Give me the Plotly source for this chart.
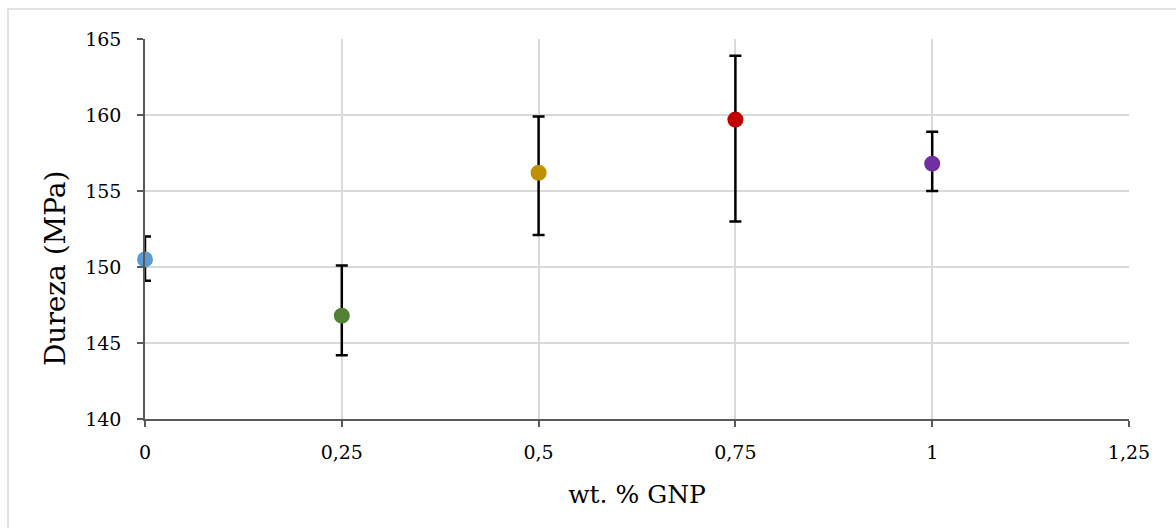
import plotly.graph_objects as go

# GNP content (wt.%) and measured hardness (MPa)
gnp_wt = [0, 0.25, 0.5, 0.75, 1]
hardness = [150.5, 146.8, 156.2, 159.7, 156.8]
err_plus = [1.5, 3.3, 3.7, 4.2, 2.1]
err_minus = [1.4, 2.6, 4.1, 6.7, 1.8]
point_colors = ["#5B9BD5", "#548235", "#BF9000", "#C00000", "#7030A0"]

x_ticks = [0, 0.25, 0.5, 0.75, 1, 1.25]
y_ticks = [140, 145, 150, 155, 160, 165]

FONT = "Georgia, 'DejaVu Serif', serif"

fig = go.Figure()

# error bars (clipped to the plotting area)
fig.add_trace(go.Scatter(
    x=gnp_wt, y=hardness, mode="markers",
    marker=dict(size=1, opacity=0),
    error_y=dict(type="data", symmetric=False, array=err_plus, arrayminus=err_minus,
                 color="#000000", thickness=2.5, width=6),
    cliponaxis=True, hoverinfo="skip", showlegend=False,
))

# data points drawn over the axis line
fig.add_trace(go.Scatter(
    x=gnp_wt, y=hardness, mode="markers",
    marker=dict(size=16, color=point_colors, line=dict(width=0)),
    cliponaxis=False, showlegend=False,
))

axis_common = dict(
    showline=True, linecolor="#595959", linewidth=1.5,
    ticks="outside", ticklen=6, tickwidth=1.5, tickcolor="#595959",
    showgrid=True, gridcolor="#d9d9d9", gridwidth=2,
    zeroline=False, tickfont=dict(family=FONT, size=19, color="#000000"),
)

fig.update_xaxes(
    range=[0, 1.25], tickvals=x_ticks, ticktext=["0", "0,25", "0,5", "0,75", "1", "1,25"],
    title=dict(text="wt. % GNP", font=dict(family=FONT, size=25, color="#000000"), standoff=24),
    ticklabelstandoff=9, **axis_common,
)
fig.update_yaxes(
    range=[140, 165], tickvals=y_ticks,
    ticklabelstandoff=12, **axis_common,
)

# vertical axis title, centred on the chart area rather than the plot
fig.add_annotation(
    text="Dureza (MPa)", xref="paper", yref="paper", x=-0.0915, y=0.397,
    xanchor="center", yanchor="middle", textangle=-90, showarrow=False,
    font=dict(family=FONT, size=28, color="#000000"),
)

# light frame around the chart area
fig.add_shape(type="rect", xref="paper", yref="paper",
              x0=-0.1392, y0=-0.4, x1=1.2, y1=1.0789,
              line=dict(color="#d9d9d9", width=1.5), fillcolor="rgba(0,0,0,0)", layer="below")

fig.update_layout(
    width=1176, height=528,
    margin=dict(l=145, r=47, t=39, b=109),
    paper_bgcolor="#ffffff", plot_bgcolor="#ffffff",
    separators=", ",
)

fig.write_html("out.html")
